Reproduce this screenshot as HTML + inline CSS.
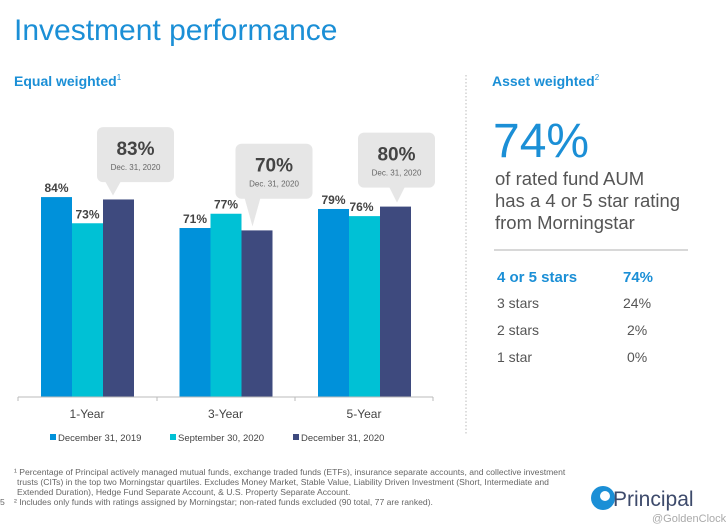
<!DOCTYPE html>
<html><head><meta charset="utf-8"><style>
body{margin:0;background:#fff;}
svg{display:block;font-family:"Liberation Sans",sans-serif;}
</style></head><body>
<svg id="c" width="726" height="532" viewBox="0 0 726 532" xmlns="http://www.w3.org/2000/svg">
<text x="14" y="40" font-size="30" fill="#1b8fd6">Investment performance</text>
<text x="14" y="86" font-size="14" font-weight="bold" fill="#1b8fd6">Equal weighted<tspan font-size="8" dy="-6" font-weight="normal">1</tspan></text>
<g id="bars"></g>
<line x1="466" y1="75" x2="466" y2="435" stroke="#bbb" stroke-dasharray="1.5,2"/>
<text x="492" y="86" font-size="14" font-weight="bold" fill="#1b8fd6">Asset weighted<tspan font-size="8" dy="-6" font-weight="normal">2</tspan></text>
<text x="493" y="157" font-size="48" fill="#1b8fd6">74%</text>
<g font-size="18.5" fill="#555">
<text x="495" y="185">of rated fund AUM</text>
<text x="495" y="207">has a 4 or 5 star rating</text>
<text x="495" y="229">from Morningstar</text>
</g>
<line x1="494" y1="250" x2="688" y2="250" stroke="#ccc" stroke-width="1.5"/>
<g font-size="14" fill="#555">
<text x="497" y="282" font-size="15" font-weight="bold" fill="#1b8fd6">4 or 5 stars</text>
<text x="623" y="282" font-size="15" font-weight="bold" fill="#1b8fd6">74%</text>
<text x="497" y="308">3 stars</text><text x="623" y="308">24%</text>
<text x="497" y="335">2 stars</text><text x="627" y="335">2%</text>
<text x="497" y="362">1 star</text><text x="627" y="362">0%</text>
</g>
<g font-size="8.6" fill="#666">
<text x="14" y="475">¹ Percentage of Principal actively managed mutual funds, exchange traded funds (ETFs), insurance separate accounts, and collective investment</text>
<text x="17" y="485">trusts (CITs) in the top two Morningstar quartiles. Excludes Money Market, Stable Value, Liability Driven Investment (Short, Intermediate and</text>
<text x="17" y="495">Extended Duration), Hedge Fund Separate Account, &amp; U.S. Property Separate Account.</text>
<text x="14" y="505">² Includes only funds with ratings assigned by Morningstar; non-rated funds excluded (90 total, 77 are ranked).</text>
<text x="0" y="505">5</text>
</g>
<g>
<circle cx="603" cy="498" r="12" fill="#1b8fd6"/>
<circle cx="605" cy="496" r="5" fill="#fff"/>
<text x="613" y="506" font-size="21" fill="#3d4a6b">Principal</text>
<text x="652" y="522" font-size="11" fill="#aaa">@GoldenClock</text>
</g>
</svg>
<script>
const categories=["1-Year","3-Year","5-Year"];
const seriesNames=["December 31, 2019","September 30, 2020","December 31, 2020"];
const dec2019=[84,71,79];
const sep2020=[73,77,76];
const dec2020=[83,70,80];
const calloutLabels=["Dec. 31, 2020","Dec. 31, 2020","Dec. 31, 2020"];
const NS="http://www.w3.org/2000/svg";
const g=document.getElementById('bars');
const colors=["#0091da","#00c1d5","#3e4a7e"];
const base=397, scale=2.38, g0=87, gs=138.5, bw=31;
const boxDx=[10,10,-6], tipDx=[26,27,33];
const y=v=>base-v*scale;
const xc=i=>g0+gs*i;
function mk(t,a,p){const e=document.createElementNS(NS,t);for(const k in a)e.setAttribute(k,a[k]);(p||g).appendChild(e);return e;}
const series=[dec2019,sep2020,dec2020];
categories.forEach((c,i)=>{
  series.forEach((s,j)=>{
    const x=xc(i)-46+j*bw;
    const r=mk('rect',{x:x,y:y(s[i]),width:bw,height:s[i]*scale,fill:colors[j]});
    
    
    if(j<2){
      const t=mk('text',{x:x+bw/2-(j==1&&i==2?3:0),y:y(s[i])-5,'text-anchor':'middle','font-size':12,'font-weight':'bold',fill:'#444'});
      t.textContent=s[i]+'%';
      
      
    }
  });
  const mx=Math.max(dec2019[i],sep2020[i],dec2020[i]);
  const top=y(dec2020[i]);
  const bb=y(mx)-15-(i==2?4:0);
  const by=bb-55;
  const bx=xc(i)+tipDx[i];
  const cg=mk('g',{});
  
  
  const lx0=xc(i)+boxDx[i];
  mk('rect',{x:lx0,y:by,width:77,height:55,rx:6,fill:'#e6e6e6'},cg);
  mk('path',{d:`M${bx-8} ${bb-1} L${bx} ${top-4} L${bx+8} ${bb-1} Z`,fill:'#e6e6e6'},cg);
  const t1=mk('text',{x:lx0+38.5,y:by+28,'text-anchor':'middle','font-size':19,'font-weight':'bold',fill:'#444'},cg);
  t1.textContent=dec2020[i]+'%';
  const t2=mk('text',{x:lx0+38.5,y:by+43,'text-anchor':'middle','font-size':8,fill:'#666'},cg);
  t2.textContent=calloutLabels[i];
  const cl=mk('text',{x:xc(i),y:418,'text-anchor':'middle','font-size':12,fill:'#444'});
  cl.textContent=c;
  
  
});
const ax=mk('line',{x1:18,y1:base,x2:433,y2:base,stroke:'#bbb'});


[18,157,295,433].forEach(x=>mk('line',{x1:x,y1:base,x2:x,y2:base+4,stroke:'#bbb'}));
const lx=[50,170,293];
seriesNames.forEach((n,j)=>{
  const lg=mk('g',{});
  
  
  mk('rect',{x:lx[j],y:434,width:6,height:6,fill:colors[j]},lg);
  const t=mk('text',{x:lx[j]+8,y:441,'font-size':9.5,fill:'#444'},lg);
  t.textContent=n;
});
</script>
</body></html>
